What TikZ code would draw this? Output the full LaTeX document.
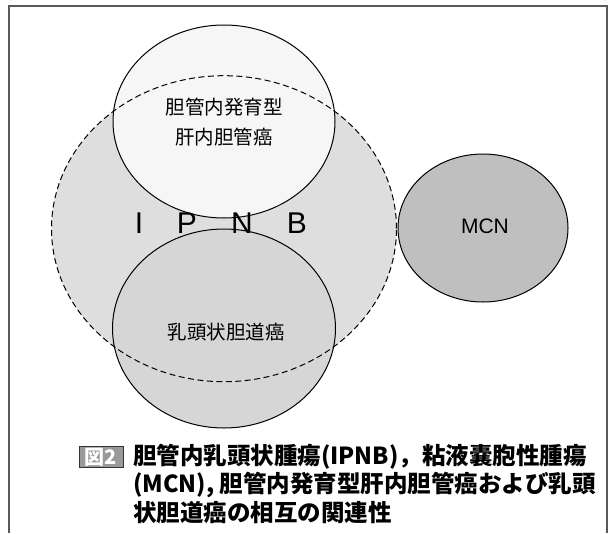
\documentclass[tikz,border=0pt]{standalone}
\usepackage{fontspec}
\setmainfont{Liberation Sans}
\newfontfamily\cjk{Noto Sans CJK JP}
\usetikzlibrary{shapes.geometric}
\definecolor{ipnbfill}{gray}{0.87}
\definecolor{topfill}{gray}{0.965}
\definecolor{botfill}{gray}{0.84}
\definecolor{mcnfill}{gray}{0.75}
\definecolor{framecol}{gray}{0.35}
\definecolor{tagfill}{gray}{0.60}
\tikzset{
  blob/.style={ellipse, inner sep=0pt, outer sep=0pt},
  outline/.style={blob, draw=black, line width=1pt},
  dashline/.style={blob, draw=black, line width=1pt, dash pattern=on 6pt off 3.5pt},
  inlabel/.style={font=\cjk\fontsize{19.5}{30}\selectfont, align=center, inner sep=0pt},
  letter/.style={font=\fontsize{30}{30}\selectfont, inner sep=0pt},
  captionline/.style={font=\cjk\bfseries\fontsize{23.5}{28}\selectfont, anchor=west, inner sep=0pt},
}
\begin{document}
\begin{tikzpicture}[x=1pt,y=-1pt]
\useasboundingbox (0,0) rectangle (610,533);
\fill[white] (0,0) rectangle (610,533);
% frame
\coordinate (fbl) at (9,533);
\coordinate (ftl) at (9,6);
\coordinate (ftr) at (607,6);
\coordinate (fbr) at (607,533);
\draw[framecol, line width=1.5pt] (fbl) -- (ftl) -- (ftr) -- (fbr);
% fills
\node[blob, fill=ipnbfill, minimum width=345pt, minimum height=306pt] (ipnb) at (224,228.7) {};
\node[blob, fill=topfill, minimum width=222pt, minimum height=193pt] (top) at (224,121.5) {};
\node[blob, fill=botfill, minimum width=223pt, minimum height=199pt] (bot) at (224,328.5) {};
\node[blob, fill=mcnfill, minimum width=170pt, minimum height=148pt] (mcn) at (483,228) {};
% outlines
\node[outline, minimum width=222pt, minimum height=193pt] (topline) at (top) {};
\node[outline, minimum width=223pt, minimum height=199pt] (botline) at (bot) {};
\node[outline, minimum width=170pt, minimum height=148pt] (mcnline) at (mcn) {};
\node[dashline, minimum width=345pt, minimum height=306pt] (ipnbline) at (ipnb) {};
% labels
\node[inlabel] (toplabel) at (224,122) {胆管内発育型\\肝内胆管癌};
\node[inlabel] (botlabel) at (226,332) {乳頭状胆道癌};
\node[font=\fontsize{21}{21}\selectfont, inner sep=0pt] (mcnlabel) at (485,226) {MCN};
\node[letter] (lI) at (139,223) {I};
\node[letter] (lP) at (187,223) {P};
\node[letter] (lN) at (242,223) {N};
\node[letter] (lB) at (297,223) {B};
% caption
\node[fill=tagfill, draw=gray!40!black, line width=0.4pt, minimum width=44pt, minimum height=21pt, inner sep=0pt, text=white, font=\cjk\bfseries\fontsize{20}{20}\selectfont] (tag) at (101,457) {図2};
\node[captionline] (cap1) at (133,457) {胆管内乳頭状腫瘍(IPNB)，粘液嚢胞性腫瘍};
\node[captionline] (cap2) at (133,485) {(MCN), 胆管内発育型肝内胆管癌および乳頭};
\node[captionline] (cap3) at (133,513) {状胆道癌の相互の関連性};
\end{tikzpicture}
\end{document}
